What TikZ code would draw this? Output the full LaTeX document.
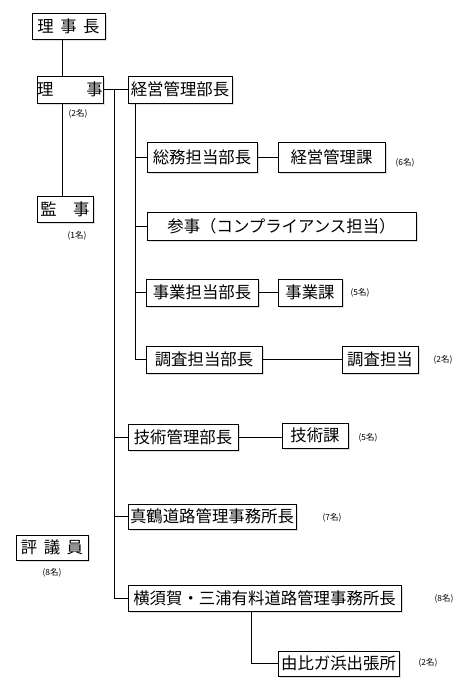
\documentclass[tikz,border=0pt]{standalone}
\usepackage{fontspec}
\setmainfont{Noto Sans CJK JP}
\usetikzlibrary{shadows}
\tikzset{
  orgbox/.style 2 args={draw=black, line width=0.6pt, fill=white, inner sep=0pt,
    minimum width=#1*0.75pt, minimum height=#2*0.75pt,
    font=\fontsize{12.3}{14}\selectfont,
    drop shadow={shadow xshift=1.2pt, shadow yshift=-1.2pt, opacity=0.25, fill=black!50}},
  cnt/.style={inner sep=0pt, font=\fontsize{6.3}{7}\selectfont},
  conn/.style={draw=black, line width=0.6pt}
}
\begin{document}
\begin{tikzpicture}[x=0.75pt, y=-0.75pt]
\useasboundingbox (0,0) rectangle (465,690);
% guide coordinates for vertical lines
\coordinate (vA) at (62,0);
\coordinate (vB) at (114,0);
\coordinate (vC) at (135,0);
\coordinate (vD) at (251,0);
% boxes
\node[orgbox={73}{26}] (cho) at (68.5,26) {理\hspace{0.4em}事\hspace{0.4em}長};
\node[orgbox={66}{27}] (riji) at (70,89.5) {理\hspace{2em}事};
\node[orgbox={104}{27}] (keiei) at (180,89.5) {経営管理部長};
\node[orgbox={56}{26}] (kanji) at (65,209) {監\hspace{1em}事};
\node[orgbox={110}{30}] (somu) at (202,157) {総務担当部長};
\node[orgbox={107}{30}] (keieika) at (331.5,157) {経営管理課};
\node[orgbox={269}{28}] (sanji) at (281.5,226) {参事（コンプライアンス担当）};
\node[orgbox={112}{27}] (jigyo) at (202,292.5) {事業担当部長};
\node[orgbox={64}{27}] (jigyoka) at (310,292.5) {事業課};
\node[orgbox={116}{27}] (chosa) at (204,359.5) {調査担当部長};
\node[orgbox={76}{27}] (chosatanto) at (380,359.5) {調査担当};
\node[orgbox={110}{26}] (gijutsu) at (183,437) {技術管理部長};
\node[orgbox={66}{25}] (gijutsuka) at (315,435.5) {技術課};
\node[orgbox={168}{25}] (manazuru) at (212,516.5) {真鶴道路管理事務所長};
\node[orgbox={72}{25}] (hyogi) at (52,547.5) {評\hspace{0.4em}議\hspace{0.4em}員};
\node[orgbox={273}{26}] (yokosuka) at (264.5,598) {横須賀・三浦有料道路管理事務所長};
\node[orgbox={121}{25}] (yui) at (338.5,663.5) {由比ガ浜出張所};
% counts
\node[cnt] (c1) at (78,114) {(2名)};
\node[cnt] (c2) at (77,236) {(1名)};
\node[cnt] (c3) at (405,163) {(6名)};
\node[cnt] (c4) at (360,293) {(5名)};
\node[cnt] (c5) at (443,360) {(2名)};
\node[cnt] (c6) at (368,438) {(5名)};
\node[cnt] (c7) at (332,518) {(7名)};
\node[cnt] (c8) at (52,573) {(8名)};
\node[cnt] (c9) at (444,599) {(8名)};
\node[cnt] (c10) at (428,663) {(2名)};
% connectors
\draw[conn] (cho.south -| vA) -- (riji.north -| vA);
\draw[conn] (riji.south -| vA) -- (kanji.north -| vA);
\draw[conn] (riji.east) -- (keiei.west);
\draw[conn] (riji.east -| vB) |- (yokosuka.west);
\draw[conn] (gijutsu.west -| vB) -- (gijutsu.west);
\draw[conn] (manazuru.west -| vB) -- (manazuru.west);
\draw[conn] (keiei.south -| vC) |- (chosa.west);
\draw[conn] (somu.west -| vC) -- (somu.west);
\draw[conn] (sanji.west -| vC) -- (sanji.west);
\draw[conn] (jigyo.west -| vC) -- (jigyo.west);
\draw[conn] (somu.east) -- (keieika.west);
\draw[conn] (jigyo.east) -- (jigyoka.west);
\draw[conn] (chosa.east) -- (chosatanto.west);
\draw[conn] (gijutsu.east) -- (gijutsu.east -| gijutsuka.west);
\draw[conn] (yokosuka.south -| vD) |- (yui.west);
\end{tikzpicture}
\end{document}
